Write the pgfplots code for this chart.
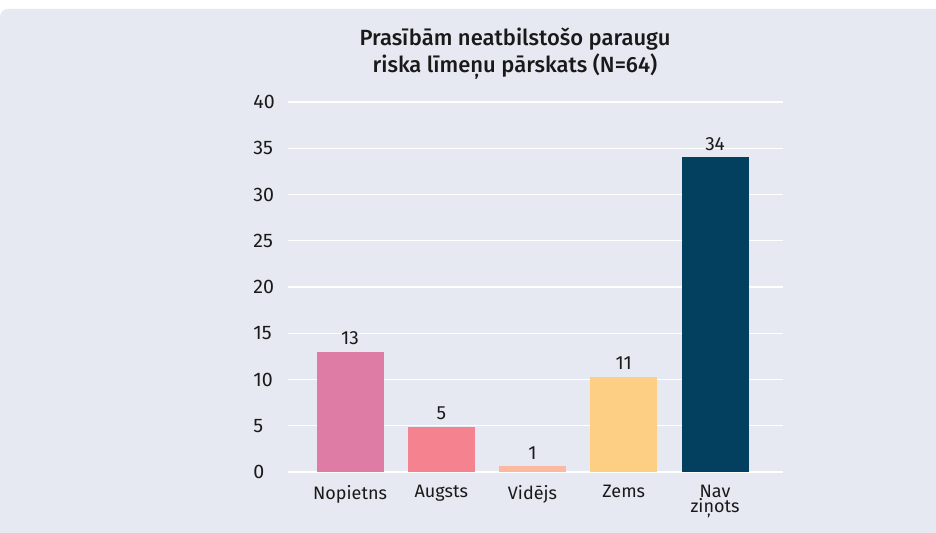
\documentclass[border=0pt]{standalone}
\usepackage{pgfplots}
\pgfplotsset{compat=1.18}
\usepackage{fontspec}
\setmainfont{Fira Sans}
\newfontfamily\titlefont{Fira Sans Medium}

\definecolor{panel}{RGB}{230,233,241}
\definecolor{txt}{RGB}{25,25,25}
\definecolor{cserious}{RGB}{223,124,166}
\definecolor{chigh}{RGB}{244,131,143}
\definecolor{cmid}{RGB}{250,185,160}
\definecolor{clow}{RGB}{253,207,133}
\definecolor{cnone}{RGB}{3,63,94}

\begin{document}
\begin{tikzpicture}[x=0.5pt,y=0.5pt]
  % page and panel (1 px of the reference = 0.5pt)
  \fill[white] (0,0) rectangle (936,533);
  \fill[panel] (0,0) [rounded corners=4pt] -- (0,524) [sharp corners] -- (936,524) -- (936,0) -- cycle;

  \node[anchor=base, text=txt, font=\titlefont\fontsize{11}{13}\selectfont] at (515,487) {Prasībām neatbilstošo paraugu};
  \node[anchor=base, text=txt, font=\titlefont\fontsize{11}{13}\selectfont] at (515,460) {riska līmeņu pārskats (N=64)};

  \begin{axis}[
    at={(144pt,30.5pt)}, anchor=south west,
    scale only axis,
    width=247.5pt, height=185pt,
    xmin=-0.68, xmax=4.745,
    ymin=0, ymax=40,
    axis line style={draw=none},
    major tick length=0pt,
    ytick={0,5,...,40},
    ymajorgrids,
    grid style={white, line width=0.7pt},
    /pgf/number format/assume math mode=true,
    xtick={0,1,2,3,4},
    xticklabels={Nopietns, Augsts, Vidējs, Zems, {Nav\\ziņots}},
    xticklabel style={align=center, text=txt, font=\fontsize{9}{7.5}\selectfont, yshift=-3pt},
    yticklabel style={anchor=west, xshift=-17.5pt, inner sep=0pt, text=txt, font=\fontsize{9.8}{10}\selectfont},
    ybar, bar width=0.734,
    nodes near coords,
    point meta=explicit symbolic,
    every node near coord/.append style={text=txt, font=\fontsize{9.5}{10}\selectfont, yshift=0pt},
  ]
    \addplot[fill=cserious, draw=none, bar shift=0pt] coordinates {(0,13) [13]};
    \addplot[fill=chigh, draw=none, bar shift=0pt] coordinates {(1,4.9) [5]};
    \addplot[fill=cmid, draw=none, bar shift=0pt] coordinates {(2,0.63) [1]};
    \addplot[fill=clow, draw=none, bar shift=0pt] coordinates {(3,10.27) [11]};
    \addplot[fill=cnone, draw=none, bar shift=0pt] coordinates {(4,34) [34]};
  \end{axis}
\end{tikzpicture}
\end{document}
